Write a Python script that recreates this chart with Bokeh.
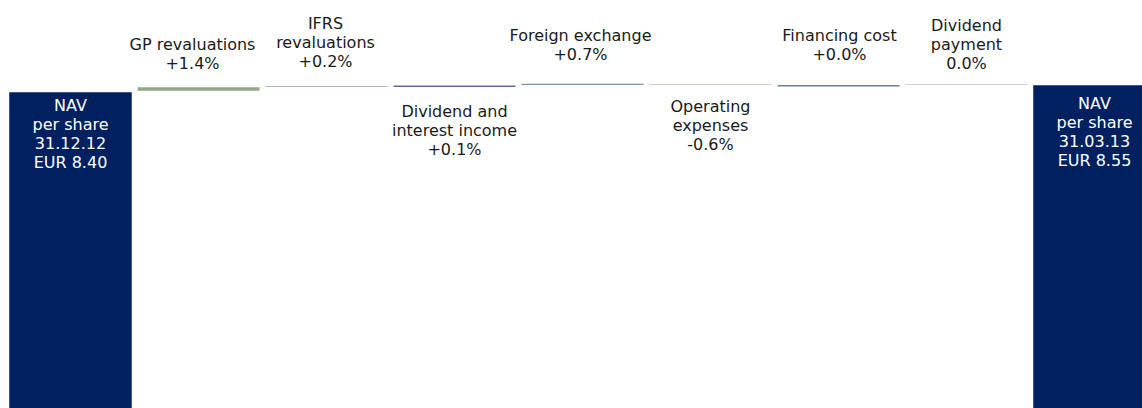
from bokeh.plotting import figure
from bokeh.models import ColumnDataSource, Range1d
from bokeh.core.properties import value
from bokeh.embed import file_html
from bokeh.resources import INLINE

# ---- data ----
nav_labels = ["NAV\nper share\n31.12.12\nEUR 8.40", "NAV\nper share\n31.03.13\nEUR 8.55"]
nav_values = [8.40, 8.55]

step_names = ["GP revaluations", "IFRS\nrevaluations", "Dividend and\ninterest income",
              "Foreign exchange", "Operating\nexpenses", "Financing cost", "Dividend\npayment"]
step_changes = ["+1.4%", "+0.2%", "+0.1%", "+0.7%", "-0.6%", "+0.0%", "0.0%"]
# floating bar extents, NAV per share (EUR)
step_low = [8.44, 8.52, 8.52, 8.56, 8.56, 8.53, 8.56]
step_high = [8.51, 8.54, 8.55, 8.59, 8.58, 8.56, 8.58]

# ---- styles ----
NAVY = "#002060"
step_colors = ["#93a88a", "#a9b7cc", "#5d6f93", "#7f8fae", "#c9cfc2", "#6b7c9c", "#d0d0d0"]
label_side = ["above", "above", "below", "above", "below", "above", "above"]
label_dy = [-33, -43.5, 43.6, -38.6, 40.5, -40, -40]
label_dx = [-6, -1, 0, -2, 0, 1, 0]
nav_dy = [42, 46.5]
FONT = value("DejaVu Sans")
FSIZE = "16px"
LH = 1.0

BAR_W = 122 / 128

p = figure(width=1142, height=408, output_backend="svg", toolbar_location=None,
           x_axis_location=None, y_axis_location=None,
           x_range=Range1d(-0.546875, 8.375), y_range=Range1d(1.6286, 10.3714),
           min_border=0, outline_line_color=None, background_fill_color="white",
           border_fill_color="white")
p.xgrid.visible = False
p.ygrid.visible = False

n_steps = len(step_names)
nav_x = [0, n_steps + 1]
step_x = list(range(1, n_steps + 1))

nav_src = ColumnDataSource(dict(x=nav_x, top=nav_values, text=nav_labels, dy=nav_dy))
p.vbar(x="x", top="top", bottom=0, width=BAR_W, source=nav_src,
       fill_color=NAVY, line_color=NAVY, line_width=0.5)
p.text(x="x", y="top", text="text", y_offset="dy", source=nav_src,
       text_color="white", text_font=FONT, text_font_size=FSIZE,
       text_align="center", text_baseline="middle", text_line_height=LH)

step_src = ColumnDataSource(dict(
    x=step_x, low=step_low, high=step_high, color=step_colors,
    text=[f"{n}\n{c}" for n, c in zip(step_names, step_changes)],
    anchor=[h if s == "above" else l for h, l, s in zip(step_high, step_low, label_side)],
    dy=label_dy, dx=label_dx))
p.vbar(x="x", top="high", bottom="low", width=BAR_W, source=step_src,
       fill_color="color", line_color=None)
p.text(x="x", y="anchor", text="text", x_offset="dx", y_offset="dy", source=step_src,
       text_color="#1a1a1a", text_font=FONT, text_font_size=FSIZE,
       text_align="center", text_baseline="middle", text_line_height=LH)

open("out.html", "w").write(file_html(p, INLINE))
